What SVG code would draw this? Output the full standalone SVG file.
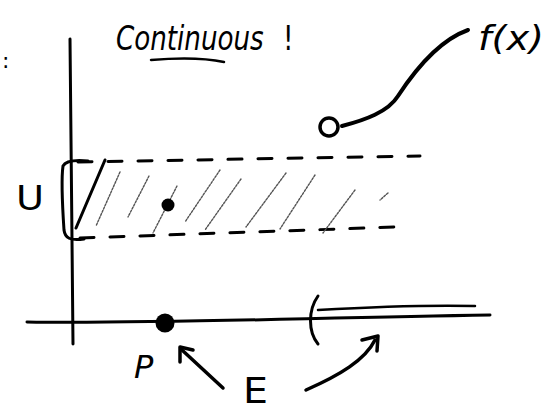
<svg xmlns="http://www.w3.org/2000/svg" width="547" height="413" viewBox="0 0 547 413">
<style>
.ink{fill:none;stroke:#000;stroke-linecap:round;stroke-linejoin:round}
.hw{font-family:"DejaVu Sans","Liberation Sans",sans-serif;fill:#000}
.hatch{stroke:#555;stroke-width:1.4;stroke-dasharray:2 1.5}
.dash{stroke:#000;stroke-width:3;stroke-dasharray:14 16}
</style>
<rect width="547" height="413" fill="#fff"/>
<g id="axes">
<path class="ink" stroke-width="3" d="M70 39 C71 120 72 250 73 344"/>
<path class="ink" stroke-width="3" d="M27 322 C150 324 300 318 490 315"/>
</g>
<g id="labels">
<text class="hw" x="2" y="68" font-size="22">:</text>
<text class="hw" transform="scale(0.77 1)" x="150.6" y="50" font-size="34" font-style="italic">Continuous<tspan dx="25" font-style="normal">!</tspan></text>
<path class="ink" stroke-width="2.5" d="M151 60 C175 58 205 58 224 62"/>
<text class="hw" x="478" y="50" font-size="34" font-style="italic" textLength="66" lengthAdjust="spacingAndGlyphs">f(x)</text>
<text class="hw" x="16" y="210" font-size="34" textLength="28" lengthAdjust="spacingAndGlyphs">U</text>
<text class="hw" x="134" y="378" font-size="32" font-style="italic">P</text>
<text class="hw" x="243" y="403" font-size="36" textLength="25" lengthAdjust="spacingAndGlyphs">E</text>
</g>
<g id="function">
<path class="ink" stroke-width="4" d="M342 126 C365 120 388 112 398 96 C415 70 440 40 468 30"/>
<circle cx="329" cy="127" r="9" fill="#fff" stroke="#000" stroke-width="3.5"/>
</g>
<g id="band">
<path class="ink dash" d="M78 162 L420 156"/>
<path class="ink dash" d="M80 238 L395 227"/>
<path class="ink" stroke-width="3" d="M88 161 C78 160 66 160 63 166 C61 180 63 215 64 230 C65 238 70 241 84 239"/>
<path class="ink" stroke-width="3" d="M105 160 L76 228"/>
<g class="ink hatch">
<path d="M120 172 L96 226"/>
<path d="M149 176 L128 217"/>
<path d="M177 186 L153 233"/>
<path d="M220 170 L185 222"/>
<path d="M241 179 L205 230"/>
<path d="M286 173 L246 227"/>
<path d="M315 175 L280 229"/>
<path d="M355 190 L323 233"/>
<path d="M388 193 L380 200"/>
</g>
<circle cx="168" cy="205" r="6.5" fill="#000"/>
</g>
<g id="setE">
<path class="ink" stroke-width="3" d="M318 296 C308 310 308 332 318 344"/>
<path class="ink" stroke-width="2.5" d="M318 310 C370 307 430 305 475 306"/>
<circle cx="165" cy="323" r="9.5" fill="#000"/>
</g>
<g id="connectors">
<path class="ink" stroke-width="3.5" d="M223 388 L182 350"/>
<path class="ink" stroke-width="3.5" d="M180 362 L180 347 L193 350"/>
<path class="ink" stroke-width="3.5" d="M306 390 C340 375 365 360 375 340"/>
<path class="ink" stroke-width="3.5" d="M362 340 L378 336 L377 351"/>
</g>
</svg>
